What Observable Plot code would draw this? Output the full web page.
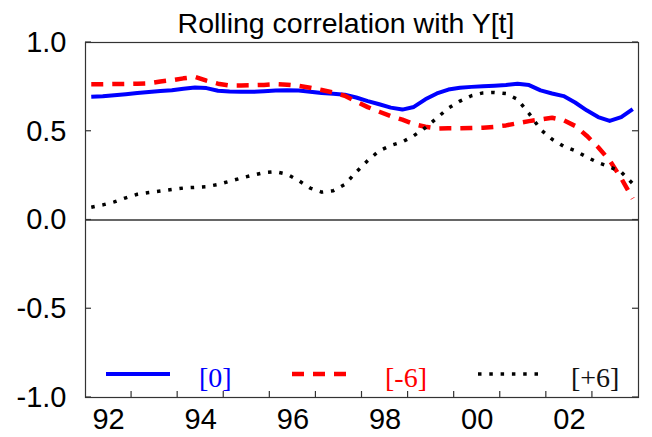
<!DOCTYPE html>
<html><head><meta charset="utf-8">
<script src="https://cdn.jsdelivr.net/npm/d3@7"></script>
<script src="https://cdn.jsdelivr.net/npm/@observablehq/plot@0.6"></script>
<style>html,body{margin:0;padding:0;background:#fff;}</style>
</head><body><div id="chart"></div>
<script>
const titleText = "Rolling correlation with Y[t]";
// quarterly observation dates (decimal years), first and step
const firstDate = 1992.125;
const dateStep = 0.25;
// rolling correlations
const corr0 = [0.694,0.697,0.703,0.709,0.715,0.721,0.727,0.731,0.740,0.746,0.743,0.728,
  0.724,0.723,0.722,0.725,0.729,0.731,0.729,0.723,0.715,0.711,0.706,0.690,
  0.670,0.652,0.633,0.622,0.637,0.680,0.713,0.735,0.745,0.750,0.753,0.757,
  0.760,0.768,0.760,0.730,0.713,0.698,0.662,0.618,0.580,0.558,0.580,0.625];
const corrM6 = [0.765,0.765,0.766,0.767,0.768,0.770,0.780,0.788,0.798,0.806,0.785,0.768,
  0.758,0.758,0.759,0.761,0.765,0.762,0.756,0.745,0.732,0.718,0.700,0.668,
  0.636,0.610,0.585,0.565,0.540,0.525,0.515,0.517,0.517,0.518,0.520,0.525,
  0.533,0.545,0.557,0.566,0.576,0.562,0.530,0.475,0.410,0.335,0.235,0.120];
const corrP6 = [0.072,0.085,0.102,0.125,0.145,0.155,0.163,0.172,0.180,0.184,0.188,0.200,
  0.218,0.236,0.252,0.267,0.272,0.258,0.222,0.180,0.157,0.165,0.200,0.270,
  0.335,0.390,0.420,0.440,0.475,0.520,0.575,0.630,0.670,0.700,0.716,0.719,
  0.712,0.680,0.600,0.510,0.455,0.415,0.390,0.355,0.323,0.300,0.270,0.205];
const seriesNames = ["[0]", "[-6]", "[+6]"];
const seriesColors = ["#0000ff", "#ff0000", "#000000"];
const yTicks = [-1, -0.5, 0, 0.5, 1];
const yearTicks = [1993,1994,1995,1996,1997,1998,1999,2000,2001,2002,2003];
const labelYears = [1992, 1994, 1996, 1998, 2000, 2002];
const xLabels = ["92", "94", "96", "98", "00", "02"];

const rows = corr0.map((v, i) => ({t: firstDate + dateStep * i, c0: v, cm6: corrM6[i], cp6: corrP6[i]}));
const lineStyles = [
  {strokeWidth: 4, strokeDasharray: null},
  {strokeWidth: 4.5, strokeDasharray: "12,9"},
  {strokeWidth: 3.5, strokeDasharray: "3.5,7.8"}
];
const keys = ["c0", "cm6", "cp6"];

const plot = Plot.plot({
  width: 652, height: 437,
  marginLeft: 85, marginRight: 14, marginTop: 42, marginBottom: 40,
  style: {fontFamily: "'Liberation Sans', Arial, sans-serif", fontSize: "29px", background: "#fff", color: "#000"},
  x: {domain: [1992, 2004], label: null},
  y: {domain: [-1, 1], label: null},
  marks: [
    Plot.frame({stroke: "#333", strokeWidth: 1.2}),
    Plot.ruleY([0], {stroke: "#333", strokeWidth: 1.4}),
    Plot.axisY({ticks: yTicks, tickSize: 0, tickPadding: 19, tickFormat: d => d.toFixed(1), fontSize: 29, label: null}),
    Plot.axisX({ticks: labelYears.map(y => y + 0.5), tickSize: 0, tickPadding: 11,
      tickFormat: d => xLabels[labelYears.indexOf(Math.round(d - 0.5))], fontSize: 29, label: null}),
    ...keys.map((k, i) => Plot.line(rows, {x: "t", y: k, stroke: seriesColors[i],
      strokeWidth: lineStyles[i].strokeWidth, strokeDasharray: lineStyles[i].strokeDasharray, strokeLinecap: "butt"})),
    Plot.text([titleText], {frameAnchor: "top", text: d => d, dy: -10, dx: -16, lineAnchor: "bottom",
      fontSize: 28.5, fontFamily: "'Liberation Sans', Arial, sans-serif"})
  ]
});

const sx = plot.scale("x"), sy = plot.scale("y");
const svg = d3.select(plot);
const g = svg.append("g").attr("stroke", "#333").attr("stroke-width", 1.2);
const yBottom = sy.apply(-1);
yearTicks.forEach(yr => {
  const x = sx.apply(yr);
  g.append("line").attr("x1", x).attr("x2", x).attr("y1", yBottom).attr("y2", yBottom - 6);
});
const xL = sx.apply(1992), xR = sx.apply(2004);
yTicks.forEach(v => {
  const y = sy.apply(v);
  g.append("line").attr("x1", xL).attr("x2", xL + 6).attr("y1", y).attr("y2", y);
  g.append("line").attr("x1", xR).attr("x2", xR - 6).attr("y1", y).attr("y2", y);
});

// legend inside the plot, near the bottom
const legY = yBottom - 23;
const legSwatch = [[106, 170], [292, 350], [478, 541]];
const legText = [199, 385, 571];
const lg = svg.append("g").attr("text-anchor", "start");
seriesNames.forEach((name, i) => {
  lg.append("line").attr("x1", legSwatch[i][0]).attr("x2", legSwatch[i][1])
    .attr("y1", legY).attr("y2", legY)
    .attr("stroke", seriesColors[i]).attr("stroke-width", lineStyles[i].strokeWidth)
    .attr("stroke-dasharray", lineStyles[i].strokeDasharray);
  lg.append("text").attr("x", legText[i]).attr("y", legY + 13)
    .attr("text-anchor", "start")
    .attr("fill", seriesColors[i] === "#000000" ? "#111" : seriesColors[i])
    .attr("font-family", "'Liberation Serif', 'Times New Roman', serif")
    .attr("font-size", 28).text(name);
});
document.getElementById("chart").appendChild(plot);
</script></body></html>
